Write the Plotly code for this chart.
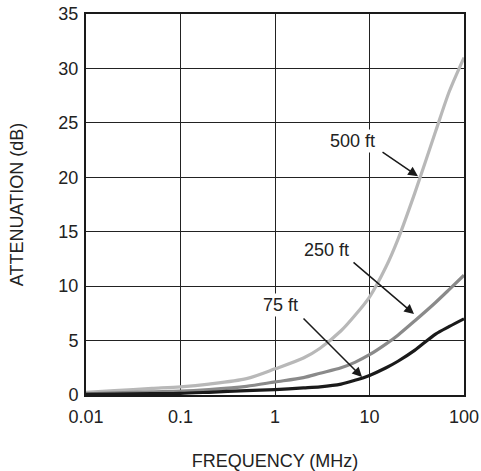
import plotly.graph_objects as go

freq_mhz = [0.01, 0.02, 0.05, 0.1, 0.2, 0.5, 1, 2, 3, 5, 7, 10, 15, 20, 30, 50, 70, 100]
att_500ft = [0.25, 0.4, 0.6, 0.75, 1.0, 1.5, 2.4, 3.4, 4.3, 5.9, 7.3, 9.0, 11.8, 14.3, 18.5, 24.2, 27.9, 31.0]
att_250ft = [0.1, 0.2, 0.3, 0.35, 0.5, 0.8, 1.2, 1.6, 2.0, 2.5, 3.0, 3.7, 4.7, 5.5, 6.8, 8.5, 9.7, 11.0]
att_75ft = [0.05, 0.08, 0.12, 0.15, 0.25, 0.4, 0.5, 0.65, 0.75, 1.0, 1.35, 1.8, 2.5, 3.1, 4.1, 5.6, 6.3, 7.0]

x_ticks = [0.01, 0.1, 1, 10, 100]
x_tick_labels = ["0.01", "0.1", "1", "10", "100"]
y_ticks = [0, 5, 10, 15, 20, 25, 30, 35]

FONT = "Liberation Sans, Arial, sans-serif"
TXT = "#222222"

fig = go.Figure()
fig.add_trace(go.Scatter(x=freq_mhz, y=att_500ft, mode="lines",
                         line=dict(color="#b8b8b8", width=3.2, shape="spline", smoothing=0.8), name="500 ft"))
fig.add_trace(go.Scatter(x=freq_mhz, y=att_250ft, mode="lines",
                         line=dict(color="#8a8a8a", width=3.2, shape="spline", smoothing=0.8), name="250 ft"))
fig.add_trace(go.Scatter(x=freq_mhz, y=att_75ft, mode="lines",
                         line=dict(color="#1a1a1a", width=3.2, shape="spline", smoothing=0.8), name="75 ft"))

labels = [
    ("500 ft", 0.815, 23.3, 1.122, 22.4, 1.513, 20.1),
    ("250 ft", 0.550, 13.3, 0.815, 12.3, 1.471, 7.44),
    ("75 ft", 0.053, 8.27, 0.286, 7.17, 0.921, 1.65),
]
for txt, tx, ty, ax, ay, hx, hy in labels:
    fig.add_annotation(x=tx, y=ty, xref="x", yref="y", text=txt, showarrow=False,
                       font=dict(family=FONT, size=18, color=TXT), bgcolor="white")
    fig.add_annotation(x=hx, y=hy, ax=ax, ay=ay, xref="x", yref="y", axref="x", ayref="y",
                       text="", showarrow=True, arrowhead=2, arrowsize=1.3, arrowwidth=1.5,
                       arrowcolor="#1a1a1a")

fig.update_xaxes(type="log", range=[-2, 2], tickvals=x_ticks, ticktext=x_tick_labels,
                 showgrid=True, gridcolor="#222222", gridwidth=1.3,
                 showline=True, linecolor="#1a1a1a", linewidth=2, mirror=True,
                 ticks="", zeroline=False, automargin=False, ticklabelstandoff=4,
                 ticklabeloverflow="allow",
                 tickfont=dict(family=FONT, size=18, color=TXT),
                 title=dict(text="FREQUENCY (MHz)", font=dict(family=FONT, size=18, color=TXT), standoff=30))
fig.update_yaxes(range=[0, 35], tickvals=y_ticks,
                 showgrid=True, gridcolor="#222222", gridwidth=1.3,
                 showline=True, linecolor="#1a1a1a", linewidth=2, mirror=True,
                 ticks="", zeroline=False, automargin=False, ticklabelstandoff=2,
                 ticklabeloverflow="allow",
                 tickfont=dict(family=FONT, size=18, color=TXT),
                 title=dict(text="ATTENUATION (dB)", font=dict(family=FONT, size=18, color=TXT), standoff=30))

fig.update_layout(width=481, height=471, margin=dict(l=86, r=17, t=14, b=76),
                  plot_bgcolor="white", paper_bgcolor="white", showlegend=False)

fig.write_html("out.html", config={"displayModeBar": False},
               post_script="document.body.style.margin='0';document.body.style.overflow='hidden';")
